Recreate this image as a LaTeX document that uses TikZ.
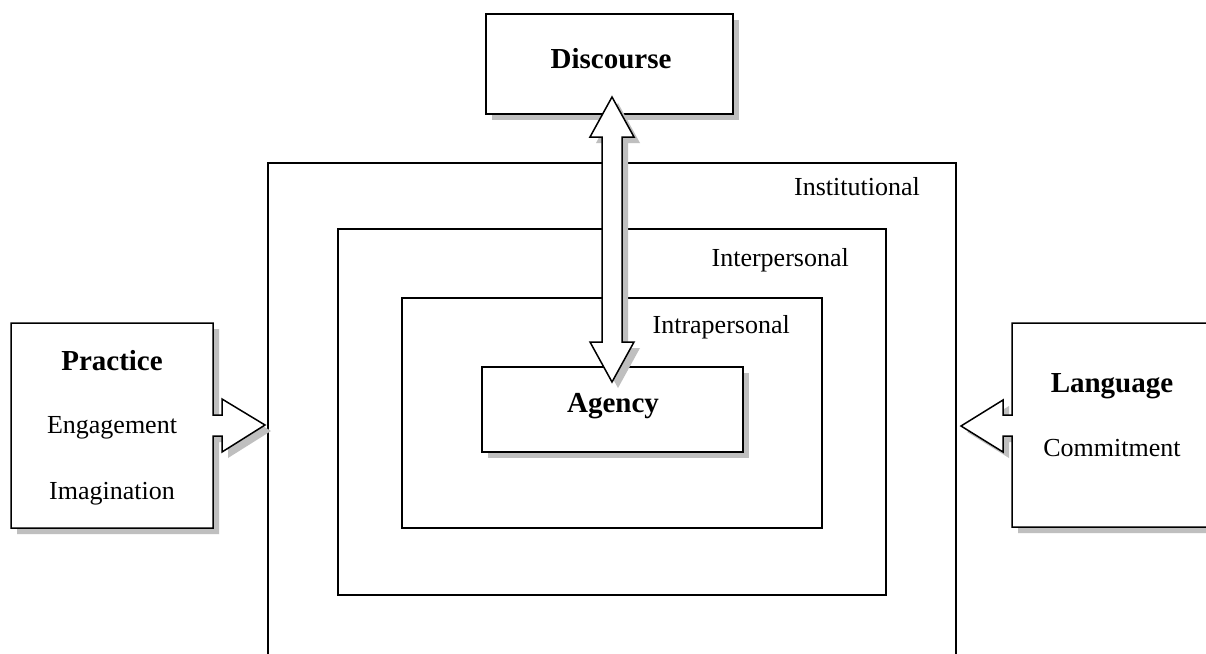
\documentclass[tikz,border=0pt]{standalone}
\usepackage{fontspec}
\setmainfont{Liberation Serif}
\usetikzlibrary{shadows}
\tikzset{
  ln/.style={line width=1.5pt, draw=black},
  shd/.style={drop shadow={shadow xshift=6pt, shadow yshift=-6pt, fill=black!25, opacity=1}},
  boxnode/.style={ln, fill=white, rectangle, inner sep=0pt},
  lbl/.style={font=\fontsize{26}{30}\selectfont, inner sep=0pt},
  blbl/.style={font=\fontsize{29}{34}\selectfont\bfseries, inner sep=0pt}
}
\begin{document}
\begin{tikzpicture}[x=1pt,y=-1pt]
\useasboundingbox (0,0) rectangle (1206,653);
\clip (0,0) rectangle (1206,653);
\fill[white] (0,0) rectangle (1206,653);

% nested context boxes
\draw[ln] (268,670) -- (268,163) -- (956,163) -- (956,670);
\node[boxnode, fill=none, minimum width=548pt, minimum height=366pt] (inter) at (612,412) {};
\node[boxnode, fill=none, minimum width=420pt, minimum height=230pt] (intra) at (612,413) {};

\node[lbl, anchor=base east] (instl) at (920,195) {Institutional};
\node[lbl, anchor=base east] (interl) at (849,266) {Interpersonal};
\node[lbl, anchor=base east] (intral) at (790,333) {Intrapersonal};

% Agency
\node[boxnode, shd, minimum width=261pt, minimum height=85pt] (agency) at (612.5,409.5) {};
\node[blbl, anchor=base] (agencyt) at (613,412) {Agency};

% Discourse
\node[boxnode, shd, minimum width=247pt, minimum height=100pt] (disc) at (609.5,64) {};
\node[blbl, anchor=base] (disct) at (611,68) {Discourse};

% double arrow between Discourse and Agency
\draw[ln, fill=white, shd, line join=miter]
  (612,97) -- (634,137) -- (622,137) -- (622,342) -- (634,342) -- (612,382)
  -- (590,342) -- (602,342) -- (602,137) -- (590,137) -- cycle;

% Practice callout
\draw[ln, fill=white, shd, line join=miter]
  (11,323) -- (213,323) -- (213,415) -- (222,415) -- (222,399) -- (265,425)
  -- (222,452) -- (222,436) -- (213,436) -- (213,528) -- (11,528) -- cycle;
\node[blbl, anchor=base] (pract) at (112,370) {Practice};
\node[lbl, anchor=base] (engage) at (112,433) {Engagement};
\node[lbl, anchor=base] (imagin) at (112,499) {Imagination};

% Language callout
\draw[ln, fill=white, shd, line join=miter]
  (1012,323) -- (1230,323) -- (1230,527) -- (1012,527) -- (1012,436)
  -- (1003,436) -- (1003,452) -- (961,426) -- (1003,400) -- (1003,415)
  -- (1012,415) -- cycle;
\node[blbl, anchor=base] (lang) at (1112,392) {Language};
\node[lbl, anchor=base] (commit) at (1112,456) {Commitment};
\end{tikzpicture}
\end{document}
